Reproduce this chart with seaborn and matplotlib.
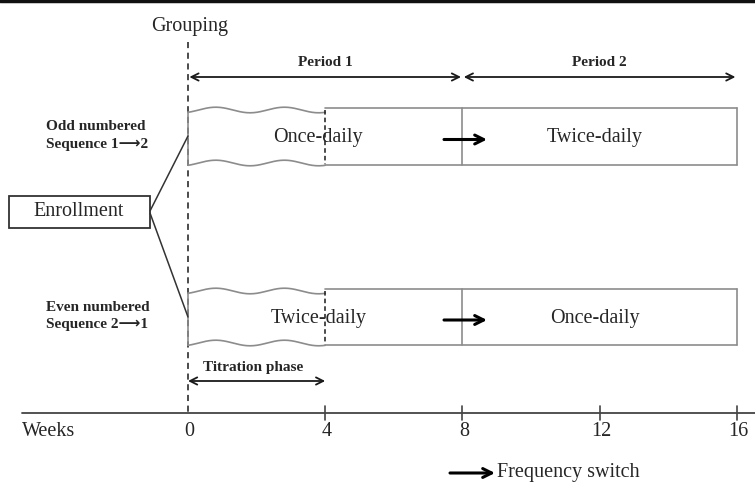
import numpy as np
import seaborn as sns
import matplotlib
matplotlib.use("Agg")
import matplotlib.pyplot as plt
from matplotlib.patches import Rectangle

# study design data
WEEK_TICKS = [0, 4, 8, 12, 16]
PERIOD_LABELS = ["Period 1", "Period 2"]
PERIOD_BOUNDS = [(0, 8), (8, 16)]
SEQUENCE_LABELS = ["Odd numbered\nSequence 1\u27f62", "Even numbered\nSequence 2\u27f61"]
TREATMENTS = [["Once-daily", "Twice-daily"], ["Twice-daily", "Once-daily"]]
TITRATION = (0, 4)
SWITCH_WEEK = 8

sns.set_theme(style="white")
plt.rcParams['font.family'] = ['Liberation Serif', 'DejaVu Sans']

PX_PER_WEEK = 34.3
X0 = 188
GRAY = "#8c8c8c"
DARK = "#1a1a1a"
REG = 14.5
BOLD = 11


def px(x):
    # pixel column -> week units (for the left-hand layout pieces)
    return (x - X0) / PX_PER_WEEK


fig = plt.figure(figsize=(7.55, 4.82), dpi=100)
ax = fig.add_axes([0, 0, 1, 1])
ax.set_xlim(px(0), px(755))
ax.set_ylim(482, 0)
ax.axis("off")

# top border
ax.plot([px(0), px(755)], [0.8, 0.8], color="#111111", lw=2.5)

# grouping line
ax.plot([0, 0], [42, 413], color=DARK, lw=1.1, ls=(0, (4, 3)))
ax.text(0.05, 26, "Grouping", ha="center", va="center", size=REG)

# periods
for lab, (a, b) in zip(PERIOD_LABELS, PERIOD_BOUNDS):
    ax.annotate("", xy=(b - 0.04, 77), xytext=(a + 0.04, 77),
                arrowprops=dict(arrowstyle="<->", color=DARK, lw=1.3,
                                shrinkA=0, shrinkB=0, mutation_scale=13))
    ax.text((a + b) / 2, 62, lab, ha="center", va="center", size=BOLD, weight="bold")

# treatment rows
row_top = [108, 289]
row_bot = [165, 345]
text_x = [3.8, 11.85]
xs = np.linspace(TITRATION[0], TITRATION[1], 200)
wave = 2.8 * np.cos(2 * np.pi * (xs - 1.81) / 2.0)
for i, (top, bot) in enumerate(zip(row_top, row_bot)):
    mid = (top + bot) / 2
    wave_top = top + 2 + wave
    wave_bot = bot - 2 + wave
    sns.lineplot(x=xs, y=wave_top, ax=ax, color=GRAY, lw=1.2, sort=False)
    sns.lineplot(x=xs, y=wave_bot, ax=ax, color=GRAY, lw=1.2, sort=False)
    end = PERIOD_BOUNDS[-1][1]
    ax.plot([TITRATION[1], end], [top, top], color=GRAY, lw=1.2)
    ax.plot([TITRATION[1], end], [bot, bot], color=GRAY, lw=1.2)
    ax.plot([end, end], [top, bot], color=GRAY, lw=1.2)
    ax.plot([SWITCH_WEEK, SWITCH_WEEK], [top, bot], color=GRAY, lw=1.2)
    ax.plot([0, 0], [wave_top[0], wave_bot[0]], color=GRAY, lw=1.2)
    ax.plot([TITRATION[1], TITRATION[1]], [top + 2, bot - 1], color=DARK, lw=1.1,
            ls=(0, (3, 2)))
    for j, t in enumerate(TREATMENTS[i]):
        ax.text(text_x[j], mid + 1, t, ha="center", va="center", size=REG)
    ax.annotate("", xy=(px(487), mid + 3), xytext=(px(444), mid + 3),
                arrowprops=dict(arrowstyle="->", color="#000000", lw=2.2,
                                shrinkA=0, shrinkB=0, mutation_scale=16))
    ax.text(px(46), mid - 1, SEQUENCE_LABELS[i], ha="left", va="center",
            size=BOLD, weight="bold", linespacing=1.45)

# enrollment box and connectors
ax.add_patch(Rectangle((px(9), 196), px(150) - px(9), 32, fill=False,
                       edgecolor="#333333", lw=1.3))
ax.text(px(79), 212, "Enrollment", ha="center", va="center", size=REG)
ax.plot([px(150), 0], [211, 136], color="#333333", lw=1.1)
ax.plot([px(150), 0], [213, 317], color="#333333", lw=1.1)

# titration phase
ax.annotate("", xy=(TITRATION[1], 381), xytext=(TITRATION[0], 381),
            arrowprops=dict(arrowstyle="<->", color=DARK, lw=1.3,
                            shrinkA=0, shrinkB=0, mutation_scale=13))
ax.text(sum(TITRATION) / 2 - 0.1, 367, "Titration phase", ha="center", va="center",
        size=BOLD, weight="bold")

# weeks axis
ax.plot([px(22), px(755)], [413, 413], color="#444444", lw=1.3)
for w in WEEK_TICKS:
    if w > 0:
        ax.plot([w, w], [406, 420], color="#444444", lw=1.2)
    ax.text(w + 0.05, 432, str(w), ha="center", va="center", size=REG)
ax.text(px(22), 432, "Weeks", ha="left", va="center", size=REG)

# legend
ax.annotate("", xy=(px(495), 473), xytext=(px(450), 473),
            arrowprops=dict(arrowstyle="->", color="#000000", lw=2.2,
                            shrinkA=0, shrinkB=0, mutation_scale=16))
ax.text(px(497), 472, "Frequency switch", ha="left", va="center", size=REG)

fig.savefig("out.png", dpi=100)
